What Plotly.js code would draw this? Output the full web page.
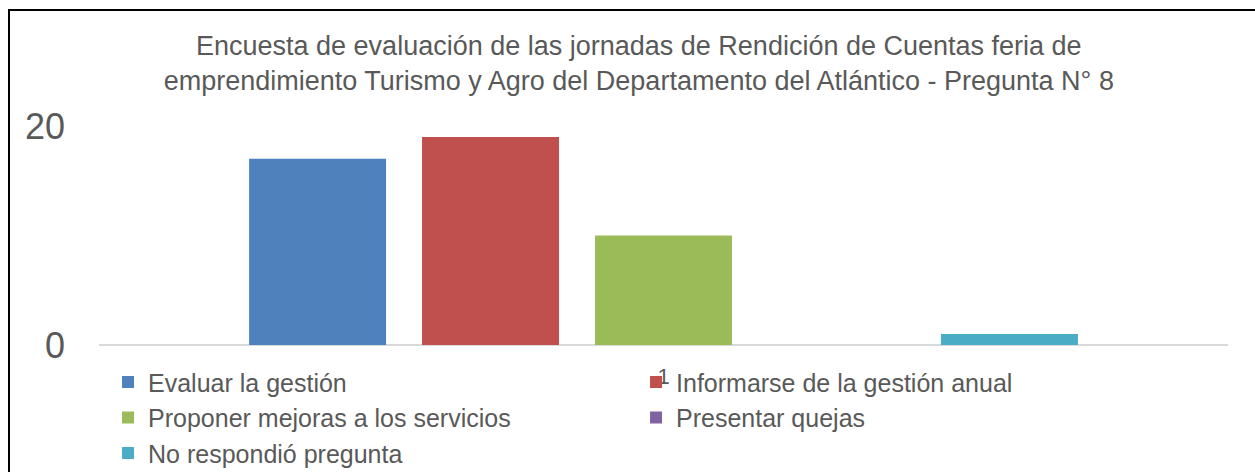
<!DOCTYPE html>
<html>
<head>
<meta charset="utf-8">
<script src="https://cdn.plot.ly/plotly-3.0.1.min.js"></script>
<style>
  body { margin: 0; background: #fff; }
  #chart { width: 1255px; height: 472px; }
  #frame {
    position: absolute; left: 8px; top: 9px; right: 0; bottom: 0;
    border-left: 2px solid #000; border-top: 2px solid #000;
    pointer-events: none;
  }
</style>
</head>
<body>
<div id="chart"></div>
<div id="frame"></div>
<script>
  // single category, one bar per answer
  var categories = ['1'];
  var seriesNames = [
    'Evaluar la gestión',
    'Informarse de la gestión anual',
    'Proponer mejoras a los servicios',
    'Presentar quejas',
    'No respondió pregunta'
  ];
  var seriesValues = [17, 19, 10, 0, 1];
  var seriesColors = ['#4f81bd', '#c0504d', '#9bbb59', '#8064a2', '#4bacc6'];
  var yTicks = [0, 20];

  var textGrey = '#595959';

  var data = [];
  for (var i = 0; i < seriesNames.length; i++) {
    data.push({
      type: 'bar',
      name: seriesNames[i],
      x: categories,
      y: [seriesValues[i]],
      marker: { color: seriesColors[i] },
      hoverinfo: 'name+y'
    });
  }

  var layout = {
    width: 1255,
    height: 472,
    margin: { l: 99, r: 27, t: 126, b: 127, autoexpand: false },
    paper_bgcolor: '#fff',
    plot_bgcolor: '#fff',
    font: { family: 'Liberation Sans, Arial, sans-serif', color: textGrey },
    title: {
      text: 'Encuesta de evaluación de las jornadas de Rendición de Cuentas feria de<br>emprendimiento Turismo y Agro del Departamento del Atlántico - Pregunta N° 8',
      font: { size: 27, color: textGrey },
      x: 0.509,
      xanchor: 'center',
      y: 0.883,
      yanchor: 'top',
      automargin: false
    },
    barmode: 'group',
    bargap: 0.234,
    bargroupgap: 0.208,
    xaxis: {
      type: 'category',
      tickfont: { size: 22, color: textGrey },
      showline: false,
      showgrid: false,
      ticks: '',
      ticklabelstandoff: 16,
      fixedrange: true
    },
    yaxis: {
      range: [0, 20],
      tickvals: yTicks,
      tickfont: { size: 36, color: textGrey },
      gridcolor: '#d9d9d9',
      gridwidth: 2,
      zeroline: true,
      zerolinecolor: '#d9d9d9',
      zerolinewidth: 2,
      ticks: '',
      ticklabelstandoff: 33,
      fixedrange: true
    },
    showlegend: true,
    legend: {
      orientation: 'h',
      x: 0.008,
      xanchor: 'left',
      y: -0.065,
      yanchor: 'top',
      entrywidth: 483,
      entrywidthmode: 'pixels',
      bgcolor: 'rgba(0,0,0,0)',
      font: { size: 25, color: textGrey },
      tracegroupgap: 0,
      traceorder: 'normal'
    }
  };

  Plotly.newPlot('chart', data, layout, { displayModeBar: false, staticPlot: true });
</script>
</body>
</html>
